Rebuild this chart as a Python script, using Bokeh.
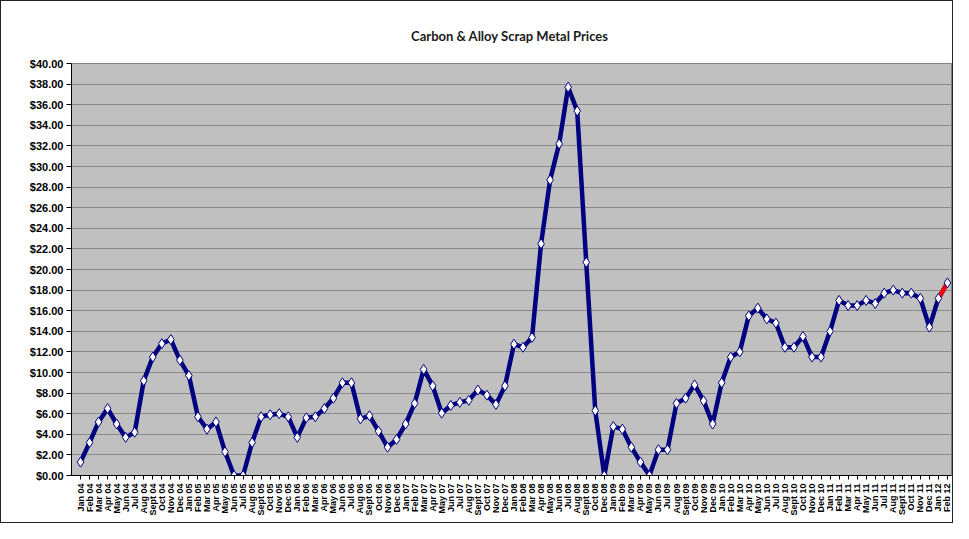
import math
from bokeh.plotting import figure
from bokeh.models import Range1d, FixedTicker, NumeralTickFormatter, ColumnDataSource
from bokeh.embed import file_html
from bokeh.resources import INLINE

months = ["Jan 04","Feb 04","Mar 04","Apr 04","May 04","Jun 04","Jul 04","Aug 04","Sept 04","Oct 04","Nov 04","Dec 04",
          "Jan 05","Feb 05","Mar 05","Apr 05","May 05","Jun 05","Jul 05","Aug 05","Sept 05","Oct 05","Nov 05","Dec 05",
          "Jan 06","Feb 06","Mar 06","Apr 06","May 06","Jun 06","Jul 06","Aug 06","Sept 06","Oct 06","Nov 06","Dec 06",
          "Jan 07","Feb 07","Mar 07","Apr 07","May 07","Jun 07","Jul 07","Aug 07","Sept 07","Oct 07","Nov 07","Dec 07",
          "Jan 08","Feb 08","Mar 08","Apr 08","May 08","Jun 08","Jul 08","Aug 08","Sept 08","Oct 08","Dec 08",
          "Jan 09","Feb 09","Mar 09","Apr 09","May 09","Jun 09","Jul 09","Aug 09","Sept 09","Oct 09","Nov 09","Dec 09",
          "Jan 10","Feb 10","Mar 10","Apr 10","May 10","Jun 10","Jul 10","Aug 10","Sept 10","Oct 10","Nov 10","Dec 10",
          "Jan 11","Feb 11","Mar 11","Apr 11","May 11","Jun 11","Jul 11","Aug 11","Sept 11","Oct 11","Nov 11","Dec 11",
          "Jan 12","Feb 12"]

prices = [1.3, 3.2, 5.2, 6.5, 5.0, 3.7, 4.2, 9.2, 11.5, 12.8, 13.2, 11.2,
          9.7, 5.7, 4.5, 5.2, 2.3, 0.0, 0.0, 3.2, 5.7, 5.9, 6.0, 5.7,
          3.7, 5.6, 5.7, 6.5, 7.5, 9.0, 9.0, 5.5, 5.8, 4.3, 2.75, 3.5,
          5.0, 7.0, 10.3, 8.7, 6.05, 6.8, 7.1, 7.3, 8.3, 7.8, 6.9, 8.7,
          12.75, 12.45, 13.4, 22.5, 28.7, 32.2, 37.7, 35.4, 20.7, 6.3, 0.0,
          4.75, 4.5, 2.75, 1.3, 0.0, 2.5, 2.5, 7.0, 7.5, 8.8, 7.25, 5.0,
          9.0, 11.5, 12.0, 15.5, 16.25, 15.2, 14.8, 12.45, 12.45, 13.5, 11.5, 11.5,
          14.0, 17.0, 16.5, 16.5, 17.0, 16.7, 17.7, 18.0, 17.7, 17.7, 17.2, 14.4,
          17.2, 18.7]

y_ticks = list(range(0, 41, 2))

idx = list(range(len(months)))
src = ColumnDataSource(dict(x=idx, y=prices))
n = len(months)
src_last = ColumnDataSource(dict(x=idx[n-2:], y=prices[n-2:]))

p = figure(width=953, height=523, output_backend="svg", toolbar_location=None,
           x_range=Range1d(-1.0, n - 1 + 0.45), y_range=Range1d(0, 40),
           title="Carbon & Alloy Scrap  Metal Prices",
           min_border_left=70, min_border_right=3, min_border_top=62, min_border_bottom=49)

p.title.align = "center"
p.title.text_font = "Lato"
p.title.text_font_style = "bold"
p.title.text_font_size = "13px"
p.title.text_color = "#1a1a1a"
p.title.standoff = 39

p.background_fill_color = "#c0c0c0"
p.border_fill_color = "white"
p.outline_line_color = "#808080"
p.styles = {"border": "1px solid #222222"}

p.xgrid.grid_line_color = None
p.ygrid.grid_line_color = "#8a8a8a"
p.ygrid.grid_line_width = 1.2

p.yaxis.ticker = FixedTicker(ticks=y_ticks)
p.yaxis.formatter = NumeralTickFormatter(format="$0.00")
p.yaxis.major_label_text_font = "Liberation Sans"
p.yaxis.major_label_text_font_style = "bold"
p.yaxis.major_label_text_font_size = "11px"
p.yaxis.major_label_text_color = "#000000"
p.yaxis.axis_line_color = "#000000"
p.yaxis.major_tick_line_color = "#000000"
p.yaxis.major_tick_out = 5
p.yaxis.major_tick_in = 0
p.yaxis.minor_tick_line_color = None
p.yaxis.major_label_standoff = 3

p.xaxis.ticker = FixedTicker(ticks=idx)
p.xaxis.major_label_overrides = {i: m for i, m in enumerate(months)}
p.xaxis.major_label_orientation = math.pi / 2
p.xaxis.major_label_text_font = "Liberation Sans"
p.xaxis.major_label_text_font_style = "bold"
p.xaxis.major_label_text_font_size = "9px"
p.xaxis.major_label_text_color = "#000000"
p.xaxis.axis_line_color = "#000000"
p.xaxis.major_tick_line_color = "#000000"
p.xaxis.major_tick_out = 4
p.xaxis.major_tick_in = 0
p.xaxis.minor_tick_line_color = None
p.xaxis.major_label_standoff = 4

p.line("x", "y", source=src, line_color="#000080", line_width=4.5, line_join="round")
p.line("x", "y", source=src_last, line_color="#ff0000", line_width=4.5)
p.scatter("x", "y", source=src, marker="diamond", size=10, fill_color="white",
          line_color="#000080", line_width=1)

open("out.html", "w").write(file_html(p, INLINE))
